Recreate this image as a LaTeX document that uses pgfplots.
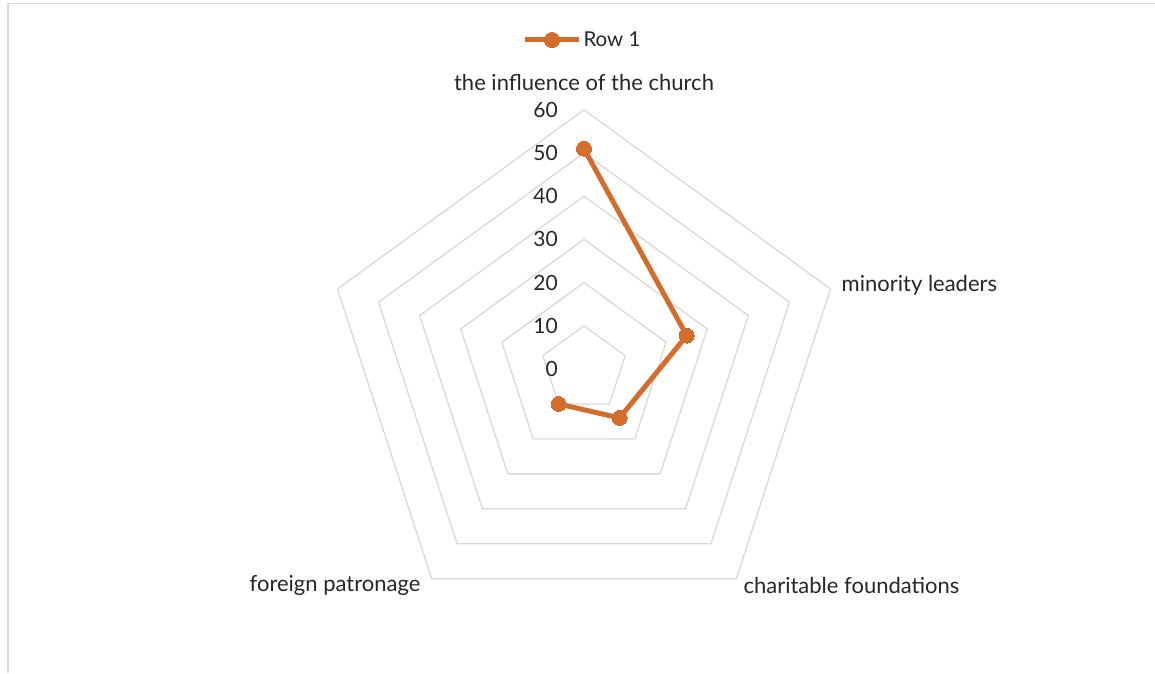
\documentclass[border=0pt]{standalone}
\usepackage{pgfplots}
\pgfplotsset{compat=1.18}
\usepgfplotslibrary{polar}
\usepackage{fontspec}
\setmainfont{Lato}
\definecolor{serA}{RGB}{212,108,44}
\definecolor{gridc}{RGB}{217,217,217}
\definecolor{txt}{RGB}{38,38,38}
\begin{document}
\begin{tikzpicture}
\path[use as bounding box] (0pt,0pt) rectangle (1155pt,-673pt);
\draw[gridc, line width=1.5pt] (8pt,-673pt) -- (8pt,-3.5pt) -- (1155pt,-3.5pt);
\begin{polaraxis}[
  at={(584pt,-369pt)}, anchor=center,
  scale only axis, width=518.4pt, height=518.4pt,
  hide axis, ymin=0, ymax=60, xmin=0, xmax=360,
  clip=false,
  font=\fontsize{22}{26}\selectfont,
  legend style={at={(0.497,1.1347)}, anchor=center, draw=none, fill=none,
    font=\fontsize{20.5}{24}\selectfont\color{txt}, inner sep=0pt,
    /tikz/every even column/.append style={column sep=1pt}},
  legend image code/.code={\draw[mark repeat=2,mark phase=2] plot coordinates {(0pt,0pt) (27pt,0pt) (54pt,0pt)};},
]
% grid pentagons
\addplot[gridc, line width=1.3pt, no markers, forget plot] coordinates {(90,10) (18,10) (-54,10) (-126,10) (162,10) (90,10)};
\addplot[gridc, line width=1.3pt, no markers, forget plot] coordinates {(90,20) (18,20) (-54,20) (-126,20) (162,20) (90,20)};
\addplot[gridc, line width=1.3pt, no markers, forget plot] coordinates {(90,30) (18,30) (-54,30) (-126,30) (162,30) (90,30)};
\addplot[gridc, line width=1.3pt, no markers, forget plot] coordinates {(90,40) (18,40) (-54,40) (-126,40) (162,40) (90,40)};
\addplot[gridc, line width=1.3pt, no markers, forget plot] coordinates {(90,50) (18,50) (-54,50) (-126,50) (162,50) (90,50)};
\addplot[gridc, line width=1.3pt, no markers, forget plot] coordinates {(90,60) (18,60) (-54,60) (-126,60) (162,60) (90,60)};
% data
\addplot[serA, line width=5pt, mark=*, mark size=7.5pt, mark options={fill=serA, draw=serA, line width=0pt}]
  coordinates {(90,51) (18,25) (-54,14) (-126,10)};
\addlegendentry{Row 1}
% radial tick labels
\node[txt, anchor=east, inner sep=0pt, xshift=-26pt, font=\fontsize{21}{25}\selectfont] at (axis cs:90,0) {0};
\node[txt, anchor=east, inner sep=0pt, xshift=-26pt, font=\fontsize{21}{25}\selectfont] at (axis cs:90,10) {10};
\node[txt, anchor=east, inner sep=0pt, xshift=-26pt, font=\fontsize{21}{25}\selectfont] at (axis cs:90,20) {20};
\node[txt, anchor=east, inner sep=0pt, xshift=-26pt, font=\fontsize{21}{25}\selectfont] at (axis cs:90,30) {30};
\node[txt, anchor=east, inner sep=0pt, xshift=-26pt, font=\fontsize{21}{25}\selectfont] at (axis cs:90,40) {40};
\node[txt, anchor=east, inner sep=0pt, xshift=-26pt, font=\fontsize{21}{25}\selectfont] at (axis cs:90,50) {50};
\node[txt, anchor=east, inner sep=0pt, xshift=-26pt, font=\fontsize{21}{25}\selectfont] at (axis cs:90,60) {60};
% category labels
\node[txt, anchor=center, inner sep=0pt, yshift=27pt] at (axis cs:90,60) {the influence of the church};
\node[txt, anchor=west, inner sep=0pt, xshift=11pt, yshift=4pt] at (axis cs:18,60) {minority leaders};
\node[txt, anchor=west, inner sep=0pt, xshift=7pt, yshift=-7pt] at (axis cs:-54,60) {charitable foundations};
\node[txt, anchor=east, inner sep=0pt, xshift=-11pt, yshift=-7pt] at (axis cs:-126,60) {foreign patronage};
\end{polaraxis}
\end{tikzpicture}
\end{document}
